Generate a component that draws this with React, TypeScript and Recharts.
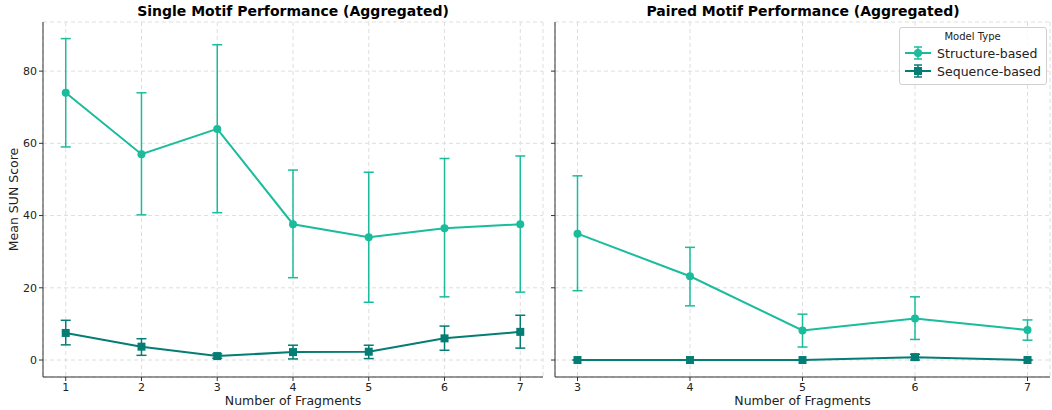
import React from 'react';
import {
  LineChart,
  Line,
  XAxis,
  YAxis,
  CartesianGrid,
  ErrorBar,
  Legend,
  Label,
} from 'recharts';

// Single motif (fragments 1..7)
const singleFragments = [1, 2, 3, 4, 5, 6, 7];
const singleStructMean = [74, 57, 64, 37.6, 34, 36.5, 37.6];
const singleStructLow = [59, 40.2, 40.8, 22.8, 16, 17.5, 18.8];
const singleStructHigh = [89, 74, 87.3, 52.6, 52, 55.8, 56.5];
const singleSeqMean = [7.5, 3.7, 1.1, 2.2, 2.3, 6, 7.8];
const singleSeqLow = [4.2, 1.3, 0.5, 0.3, 0.4, 2.7, 3.3];
const singleSeqHigh = [11, 5.9, 1.7, 4.1, 4.1, 9.4, 12.4];

// Paired motif (fragments 3..7)
const pairedFragments = [3, 4, 5, 6, 7];
const pairedStructMean = [35, 23.2, 8.2, 11.5, 8.3];
const pairedStructLow = [19.2, 15, 3.6, 5.7, 5.5];
const pairedStructHigh = [51, 31.2, 12.7, 17.5, 11.1];
const pairedSeqMean = [0, 0, 0, 0.8, 0];
const pairedSeqLow = [0, 0, 0, 0, 0];
const pairedSeqHigh = [0, 0, 0, 1.6, 0];

const yTicks = [0, 20, 40, 60, 80];
const seriesNames = ['Structure-based', 'Sequence-based'];

const STRUCT = '#1abc9c';
const SEQ = '#047d74';
const FONT = 'DejaVu Sans, sans-serif';
const Y_DOMAIN = [-4.7, 93.6];

const buildRows = (
  xs: number[],
  sm: number[], sl: number[], sh: number[],
  qm: number[], ql: number[], qh: number[]
) =>
  xs.map((x, i) => ({
    x,
    struct: sm[i],
    structErr: [sm[i] - sl[i], sh[i] - sm[i]],
    seq: qm[i],
    seqErr: [qm[i] - ql[i], qh[i] - qm[i]],
  }));

const singleData = buildRows(singleFragments, singleStructMean, singleStructLow, singleStructHigh, singleSeqMean, singleSeqLow, singleSeqHigh);
const pairedData = buildRows(pairedFragments, pairedStructMean, pairedStructLow, pairedStructHigh, pairedSeqMean, pairedSeqLow, pairedSeqHigh);

const SquareDot = (props: any) => {
  const { cx, cy } = props;
  if (cx == null || cy == null) return null;
  return <rect x={cx - 4} y={cy - 4} width={8} height={8} fill={SEQ} />;
};

const LegendBox = () => (
  <div
    style={{
      background: 'rgba(255,255,255,0.8)',
      border: '1px solid #d0d0d0',
      borderRadius: 3,
      padding: '3px 5px 4px 4px',
      fontFamily: FONT,
      color: '#222',
    }}
  >
    <div style={{ fontSize: 10, textAlign: 'center', marginBottom: 2 }}>Model Type</div>
    {seriesNames.map((name, i) => {
      const c = i === 0 ? STRUCT : SEQ;
      return (
        <div key={name} style={{ display: 'flex', alignItems: 'center', height: 18 }}>
          <svg width={28} height={16} style={{ marginRight: 5 }}>
            <line x1={1} y1={8} x2={27} y2={8} stroke={c} strokeWidth={2} />
            <line x1={14} y1={2} x2={14} y2={14} stroke={c} strokeWidth={1.5} />
            <line x1={10} y1={2} x2={18} y2={2} stroke={c} strokeWidth={1.5} />
            <line x1={10} y1={14} x2={18} y2={14} stroke={c} strokeWidth={1.5} />
            {i === 0 ? <circle cx={14} cy={8} r={4} fill={c} /> : <rect x={10} y={4} width={8} height={8} fill={c} />}
          </svg>
          <span style={{ fontSize: 12.5 }}>{name}</span>
        </div>
      );
    })}
  </div>
);

const Panel = ({ data, xDomain, xTicks, showYLabels, showLegend, width, yAxisWidth }: any) => (
  <LineChart width={width} height={410} data={data} margin={{ top: 22, right: 2, bottom: 0, left: 0 }}>
    <CartesianGrid stroke="#dedede" strokeDasharray="4 3" />
    <XAxis
      dataKey="x"
      type="number"
      domain={xDomain}
      ticks={xTicks}
      allowDataOverflow
      height={33}
      tickSize={4}
      tickLine={{ stroke: '#333' }}
      axisLine={{ stroke: '#333' }}
      tick={{ fill: '#222', fontSize: 11, fontFamily: FONT }}
    >
      <Label value="Number of Fragments" position="insideBottom" offset={5} fill="#222" fontSize={12.5} fontFamily={FONT} />
    </XAxis>
    <XAxis xAxisId="top" orientation="top" dataKey="x" type="number" domain={xDomain} height={0} tick={false} tickLine={false} axisLine={{ stroke: '#333' }} />
    <YAxis
      domain={Y_DOMAIN}
      ticks={yTicks}
      allowDataOverflow
      width={yAxisWidth}
      tickSize={4}
      tickLine={{ stroke: '#333' }}
      axisLine={{ stroke: '#333' }}
      tick={{ fill: '#222', fontSize: 11, fontFamily: FONT }}
      tickFormatter={showYLabels ? undefined : () => ''}
    >
      {showYLabels && (
        <Label value="Mean SUN Score" angle={-90} position="insideLeft" offset={14} fill="#222" fontSize={12.5} fontFamily={FONT} style={{ textAnchor: 'middle' }} />
      )}
    </YAxis>
    <YAxis yAxisId="right" orientation="right" domain={Y_DOMAIN} width={0} tick={false} tickLine={false} axisLine={{ stroke: '#333' }} />
    <Line
      dataKey="struct"
      stroke={STRUCT}
      strokeWidth={2}
      dot={{ r: 4, fill: STRUCT, stroke: STRUCT, strokeWidth: 0 }}
      activeDot={false}
      isAnimationActive={false}
    >
      <ErrorBar dataKey="structErr" direction="y" width={5} stroke={STRUCT} strokeWidth={1.5} />
    </Line>
    <Line
      dataKey="seq"
      stroke={SEQ}
      strokeWidth={2}
      dot={<SquareDot />}
      activeDot={false}
      isAnimationActive={false}
    >
      <ErrorBar dataKey="seqErr" direction="y" width={5} stroke={SEQ} strokeWidth={1.5} />
    </Line>
    {showLegend && (
      <Legend
        layout="vertical"
        align="center"
        verticalAlign="middle"
        content={<LegendBox />}
        wrapperStyle={{ top: 27, right: 5, left: 'auto', width: 'auto', bottom: 'auto' }}
      />
    )}
  </LineChart>
);

const titleStyle: React.CSSProperties = {
  position: 'absolute',
  top: 3,
  fontFamily: FONT,
  fontWeight: 'bold',
  fontSize: 14,
  color: '#000',
  textAlign: 'center',
  whiteSpace: 'nowrap',
};

export default function App() {
  return (
    <div style={{ position: 'fixed', left: 0, top: 0, width: 1052, height: 410, background: '#fff' }}>
      <div style={{ position: 'absolute', left: 0, top: 0 }}>
        <Panel data={singleData} xDomain={[0.7, 7.3]} xTicks={singleFragments} showYLabels showLegend={false} width={545} yAxisWidth={43} />
      </div>
      <div style={{ position: 'absolute', left: 545, top: 0 }}>
        <Panel data={pairedData} xDomain={[2.8, 7.2]} xTicks={pairedFragments} showYLabels={false} showLegend width={507} yAxisWidth={10} />
      </div>
      <div style={{ ...titleStyle, left: 43, width: 500 }}>Single Motif Performance (Aggregated)</div>
      <div style={{ ...titleStyle, left: 555, width: 496 }}>Paired Motif Performance (Aggregated)</div>
    </div>
  );
}
